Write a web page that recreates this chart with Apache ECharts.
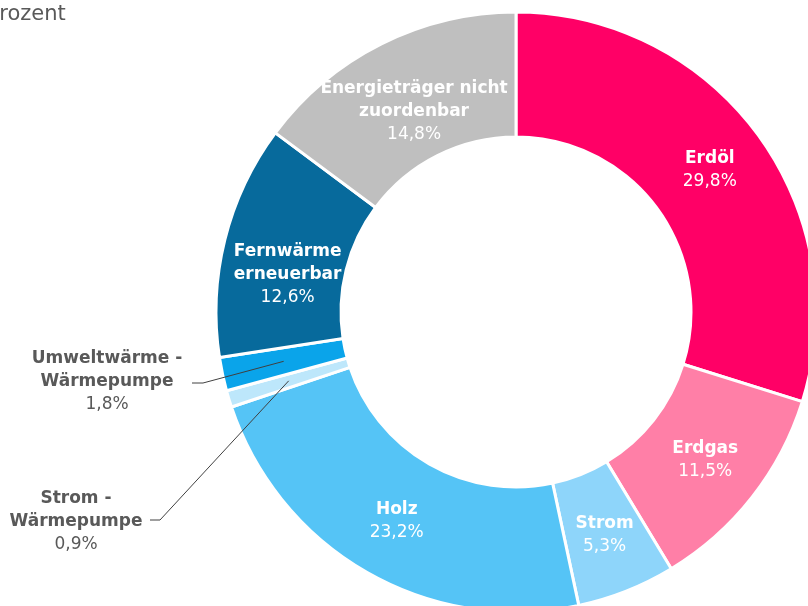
<!DOCTYPE html>
<html>
<head>
<meta charset="utf-8">
<script src="https://cdn.jsdelivr.net/npm/echarts@6/dist/echarts.min.js"></script>
<style>
  html, body { margin: 0; padding: 0; background: #fff; }
  #chart { width: 808px; height: 606px; }
</style>
</head>
<body>
<div id="chart"></div>
<script>
// Anteile der Energieträger (Prozent)
const categories = [
  'Erdöl',
  'Erdgas',
  'Strom',
  'Holz',
  'Strom -\nWärmepumpe',
  'Umweltwärme -\nWärmepumpe',
  'Fernwärme\nerneuerbar',
  'Energieträger nicht\nzuordenbar'
]
const values = [29.8, 11.5, 5.3, 23.2, 0.9, 1.8, 12.6, 14.8]
const colors = ['#ff0066', '#ff7fa7', '#8ed5fa', '#55c4f6', '#bde7fb', '#0aa4ea', '#076a9c', '#bfbfbf']

// kleine Segmente bekommen Beschriftung außerhalb
const outsideLabels = {
  4: { x: 76, y: 522, elbow: [160, 520], end: [150, 520] },
  5: { x: 107, y: 382, elbow: [203, 383], end: [192, 383] }
}
// Verschiebung einiger innerer Beschriftungen (wie im Original)
const insideShift = {
  6: [5, 21],
  7: [6, 14]
}

const center = [516, 312]
const radius = [175, 300]

const total = values.reduce((a, b) => a + b, 0)

function midAngle (i) {
  let before = 0
  for (let k = 0; k < i; k++) before += values[k]
  return (before + values[i] / 2) / total * Math.PI * 2
}

function fmt (v) {
  return v.toFixed(1).replace('.', ',') + '%'
}

function labelText (p) {
  const lines = p.name.split('\n').map(s => '{n|' + s + '}')
  lines.push('{v|' + fmt(p.value) + '}')
  return lines.join('\n')
}

const richStyle = {
  n: { fontFamily: 'DejaVu Sans', fontSize: 17, fontWeight: 'bold', lineHeight: 23, align: 'center' },
  v: { fontFamily: 'DejaVu Sans', fontSize: 17, fontWeight: 'normal', lineHeight: 23, align: 'center' }
}

// Hauptring mit inneren Beschriftungen
const pieData = categories.map((name, i) => {
  const outside = outsideLabels[i] !== undefined
  return {
    name: name,
    value: values[i],
    itemStyle: { color: colors[i] },
    label: { show: !outside }
  }
})

// zweiter, unsichtbarer Ring nur für die äußeren Beschriftungen, damit die Linien über den Segmenten liegen
const labelData = categories.map((name, i) => {
  const outside = outsideLabels[i] !== undefined
  return {
    name: name,
    value: values[i],
    label: { show: outside },
    labelLine: { show: outside }
  }
})

const myChart = echarts.init(document.getElementById('chart'))

const option = {
  animation: false,
  graphic: [{
    type: 'text',
    x: -13,
    y: 25,
    style: {
      text: 'Prozent',
      font: '21px "DejaVu Sans"',
      fill: '#595959',
      verticalAlign: 'bottom'
    }
  }],
  series: [{
    type: 'pie',
    z: 2,
    center: center,
    radius: radius,
    startAngle: 90,
    clockwise: true,
    avoidLabelOverlap: false,
    emphasis: { disabled: true },
    itemStyle: {
      borderColor: '#ffffff',
      borderWidth: 3
    },
    label: {
      position: 'inside',
      color: '#ffffff',
      fontFamily: 'DejaVu Sans',
      fontSize: 17,
      lineHeight: 23,
      align: 'center',
      formatter: labelText,
      rich: richStyle
    },
    labelLayout: function (params) {
      const s = insideShift[params.dataIndex]
      if (!s) return {}
      return { dx: s[0], dy: s[1] }
    },
    data: pieData
  }, {
    type: 'pie',
    z: 4,
    silent: true,
    center: center,
    radius: radius,
    startAngle: 90,
    clockwise: true,
    avoidLabelOverlap: false,
    emphasis: { disabled: true },
    itemStyle: {
      color: 'rgba(0,0,0,0)',
      borderWidth: 0
    },
    label: {
      position: 'outside',
      color: '#595959',
      fontFamily: 'DejaVu Sans',
      fontSize: 17,
      lineHeight: 23,
      align: 'center',
      formatter: labelText,
      rich: richStyle
    },
    labelLine: {
      lineStyle: { color: '#404040', width: 1 }
    },
    labelLayout: function (params) {
      const cfg = outsideLabels[params.dataIndex]
      if (!cfg) return {}
      const a = midAngle(params.dataIndex)
      const r = (radius[0] + radius[1]) / 2
      const start = [center[0] + r * Math.sin(a), center[1] - r * Math.cos(a)]
      return {
        x: cfg.x,
        y: cfg.y,
        align: 'center',
        verticalAlign: 'middle',
        labelLinePoints: [start, cfg.elbow, cfg.end]
      }
    },
    data: labelData
  }]
}

myChart.setOption(option)
</script>
</body>
</html>
